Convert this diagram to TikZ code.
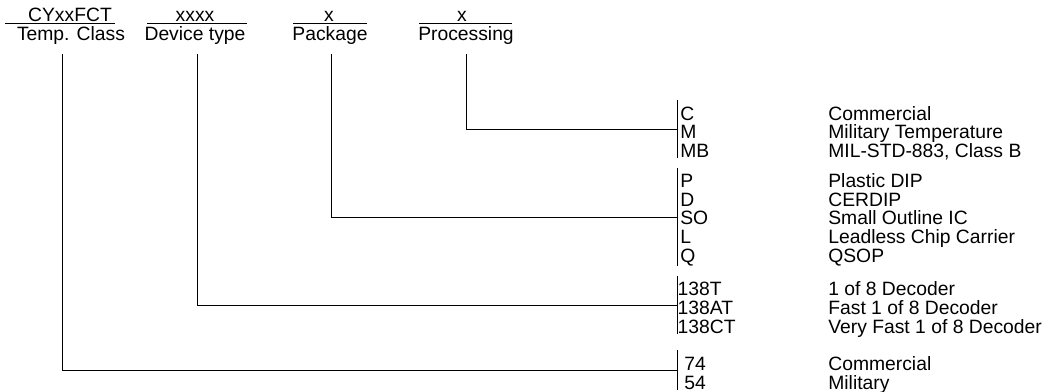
\documentclass[tikz,border=0pt]{standalone}
\usepackage{fontspec}
\setmainfont{Liberation Sans}
\usetikzlibrary{calc}
\newcommand{\rowlead}{\rule{0pt}{19.5pt}}

\begin{document}
\begin{tikzpicture}[x=1pt, y=-1pt, line width=0.7pt,
    font=\fontsize{19.3}{18.7}\selectfont,
    hdr/.style={anchor=base, inner sep=0pt},
    codes/.style={anchor=west, align=left, inner ysep=0pt, inner xsep=3pt},
    desc/.style={anchor=base west, align=left, inner sep=0pt}]
    \useasboundingbox (0,0) rectangle (1055,391);
    \coordinate (desccol) at (828,0);

    % header: code fields and their names
    \node[hdr] (temp-code) at (70,21.7) {CYxxFCT};
    \node[hdr] (dev-code)  at (195,21.7) {xxxx};
    \node[hdr] (pkg-code)  at (329,21.7) {x};
    \node[hdr] (proc-code) at (462,21.7) {x};
    \node[hdr] (temp-lbl) at (71,40) {Temp. Class};
    \node[hdr] (dev-lbl)  at (195,40) {Device type};
    \node[hdr] (pkg-lbl)  at (330,40) {Package};
    \node[hdr] (proc-lbl) at (466,40) {Processing};
    \foreach \a/\b in {5/115, 147/247, 293/367, 419/512}
        \draw (\a,23) -- (\b,23);

    % option lists
    \node[codes] (proc-opt) at (677,129) {\rowlead C\\M\\MB};
    \node[codes] (pkg-opt)  at (677,217) {\rowlead P\\D\\SO\\L\\Q};
    \node[codes, inner xsep=0.3pt] (dev-opt) at (677,305) {\rowlead 138T\\138AT\\138CT};
    \node[codes, inner xsep=7pt] (temp-opt) at (677,370) {\rowlead 74\\54};

    \node[desc] (proc-txt) at (proc-opt.base -| desccol) {\rowlead Commercial\\Military Temperature\\MIL-STD-883, Class B};
    \node[desc] (pkg-txt)  at (pkg-opt.base -| desccol) {\rowlead Plastic DIP\\CERDIP\\Small Outline IC\\Leadless Chip Carrier\\QSOP};
    \node[desc] (dev-txt)  at (dev-opt.base -| desccol) {\rowlead 1 of 8 Decoder\\Fast 1 of 8 Decoder\\Very Fast 1 of 8 Decoder};
    \node[desc] (temp-txt) at (temp-opt.base -| desccol) {\rowlead Commercial\\Military};

    % brackets and leaders
    \foreach \n in {proc, pkg, dev, temp}
        \draw (\n-opt.north west) -- (\n-opt.south west);
    \foreach \n/\dx in {temp/-9, dev/2, pkg/1, proc/0}
        \draw ([xshift=\dx pt, yshift=-10pt]\n-lbl.south) |- (\n-opt.west);
\end{tikzpicture}
\end{document}
